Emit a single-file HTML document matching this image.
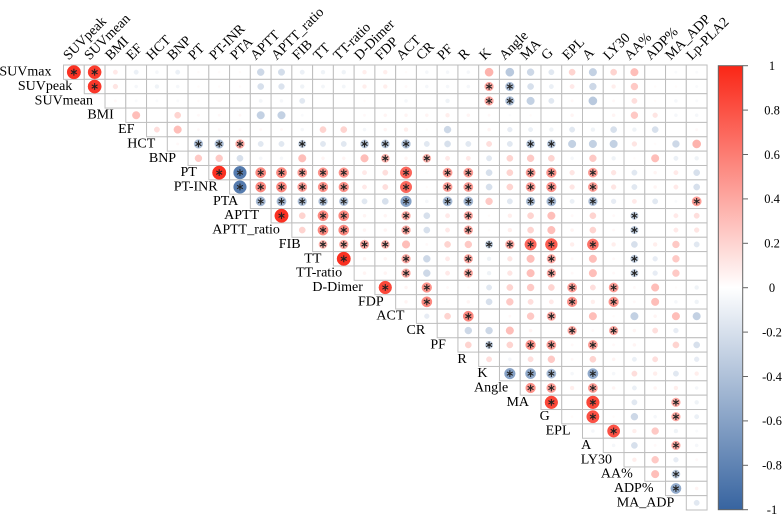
<!DOCTYPE html>
<html>
<head>
<meta charset="utf-8">
<style>
  html,body{margin:0;padding:0;background:#fff;}
  body{width:783px;height:514px;overflow:hidden;position:relative;}
  svg{display:block;position:absolute;left:0;top:0;}
  text{font-family:"Liberation Serif","Times New Roman",serif;fill:#000;}
  .rl{font-size:14px;text-anchor:end;}
  .bl{font-size:12.5px;text-anchor:middle;}
  .c{position:absolute;width:0;height:0;transform-origin:0 0;transform:rotate(-45deg);}
  .c span{position:absolute;left:0;bottom:-2.3px;font-family:"Liberation Serif","Times New Roman",serif;font-size:14px;line-height:1;white-space:nowrap;color:#000;}
</style>
</head>
<body>
<svg id="s" width="783" height="514" viewBox="0 0 783 514" xmlns="http://www.w3.org/2000/svg">
  <defs>
    <linearGradient id="cb" x1="0" y1="0" x2="0" y2="1">
      <stop offset="0" stop-color="rgb(250,38,22)"/>
      <stop offset="0.5" stop-color="#ffffff"/>
      <stop offset="1" stop-color="rgb(55,100,160)"/>
    </linearGradient>
  </defs>
  <g id="grid" fill="#fff" stroke="#bebebe" stroke-width="1"></g>
  <g id="circ"></g>
  <g id="star" stroke="#222" stroke-width="1.1" fill="none"></g>

  <!-- row labels -->
  <g class="rl">
    <text x="51.5" y="75.7">SUVmax</text>
    <text x="72.3" y="90.0">SUVpeak</text>
    <text x="93.0" y="104.4">SUVmean</text>
    <text x="113.8" y="118.7">BMI</text>
    <text x="134.5" y="133.1">EF</text>
    <text x="155.3" y="147.5">HCT</text>
    <text x="176.1" y="161.8">BNP</text>
    <text x="196.8" y="176.2">PT</text>
    <text x="217.6" y="190.5">PT-INR</text>
    <text x="238.3" y="204.9">PTA</text>
    <text x="259.1" y="219.2">APTT</text>
    <text x="279.9" y="233.6">APTT_ratio</text>
    <text x="300.6" y="247.9">FIB</text>
    <text x="321.4" y="262.3">TT</text>
    <text x="342.1" y="276.7">TT-ratio</text>
    <text x="362.9" y="291.0">D-Dimer</text>
    <text x="383.7" y="305.4">FDP</text>
    <text x="404.4" y="319.7">ACT</text>
    <text x="425.2" y="334.1">CR</text>
    <text x="445.9" y="348.4">PF</text>
    <text x="466.7" y="362.8">R</text>
    <text x="487.5" y="377.1">K</text>
    <text x="508.2" y="391.5">Angle</text>
    <text x="529.0" y="405.9">MA</text>
    <text x="549.7" y="420.2">G</text>
    <text x="570.5" y="434.6">EPL</text>
    <text x="591.3" y="448.9">A</text>
    <text x="612.0" y="463.3">LY30</text>
    <text x="632.8" y="477.6">AA%</text>
    <text x="653.5" y="492.0">ADP%</text>
    <text x="674.3" y="506.3">MA_ADP</text>
  </g>

  <!-- colour bar -->
  <rect x="718.3" y="65.7" width="24.4" height="444" fill="url(#cb)" stroke="#666" stroke-width="1"/>
  <g stroke="#666" stroke-width="1">
    <line x1="742.7" y1="65.7" x2="748" y2="65.7"/>
    <line x1="742.7" y1="110.1" x2="748" y2="110.1"/>
    <line x1="742.7" y1="154.5" x2="748" y2="154.5"/>
    <line x1="742.7" y1="198.9" x2="748" y2="198.9"/>
    <line x1="742.7" y1="243.3" x2="748" y2="243.3"/>
    <line x1="742.7" y1="287.7" x2="748" y2="287.7"/>
    <line x1="742.7" y1="332.1" x2="748" y2="332.1"/>
    <line x1="742.7" y1="376.5" x2="748" y2="376.5"/>
    <line x1="742.7" y1="420.9" x2="748" y2="420.9"/>
    <line x1="742.7" y1="465.3" x2="748" y2="465.3"/>
    <line x1="742.7" y1="509.7" x2="748" y2="509.7"/>
  </g>
  <g class="bl">
    <text x="772" y="70.0">1</text>
    <text x="772" y="114.4">0.8</text>
    <text x="772" y="158.8">0.6</text>
    <text x="772" y="203.2">0.4</text>
    <text x="772" y="247.6">0.2</text>
    <text x="772" y="292.0">0</text>
    <text x="772" y="336.4">-0.2</text>
    <text x="772" y="380.8">-0.4</text>
    <text x="772" y="425.2">-0.6</text>
    <text x="772" y="469.6">-0.8</text>
    <text x="772" y="514.0">-1</text>
  </g>
</svg>

<!-- column labels (HTML, rotated -45deg about baseline start) -->
<div class="c" style="left:70.4px;top:61.5px"><span>SUVpeak</span></div>
<div class="c" style="left:91.1px;top:61.5px"><span>SUVmean</span></div>
<div class="c" style="left:111.9px;top:61.5px"><span>BMI</span></div>
<div class="c" style="left:132.7px;top:61.5px"><span>EF</span></div>
<div class="c" style="left:153.4px;top:61.5px"><span>HCT</span></div>
<div class="c" style="left:174.2px;top:61.5px"><span>BNP</span></div>
<div class="c" style="left:194.9px;top:61.5px"><span>PT</span></div>
<div class="c" style="left:215.7px;top:61.5px"><span>PT-INR</span></div>
<div class="c" style="left:236.5px;top:61.5px"><span>PTA</span></div>
<div class="c" style="left:257.2px;top:61.5px"><span>APTT</span></div>
<div class="c" style="left:278.0px;top:61.5px"><span>APTT_ratio</span></div>
<div class="c" style="left:298.7px;top:61.5px"><span>FIB</span></div>
<div class="c" style="left:319.5px;top:61.5px"><span>TT</span></div>
<div class="c" style="left:340.3px;top:61.5px"><span>TT-ratio</span></div>
<div class="c" style="left:361.0px;top:61.5px"><span>D-Dimer</span></div>
<div class="c" style="left:381.8px;top:61.5px"><span>FDP</span></div>
<div class="c" style="left:402.5px;top:61.5px"><span>ACT</span></div>
<div class="c" style="left:423.3px;top:61.5px"><span>CR</span></div>
<div class="c" style="left:444.1px;top:61.5px"><span>PF</span></div>
<div class="c" style="left:464.8px;top:61.5px"><span>R</span></div>
<div class="c" style="left:485.6px;top:61.5px"><span>K</span></div>
<div class="c" style="left:506.3px;top:61.5px"><span>Angle</span></div>
<div class="c" style="left:527.1px;top:61.5px"><span>MA</span></div>
<div class="c" style="left:547.9px;top:61.5px"><span>G</span></div>
<div class="c" style="left:568.6px;top:61.5px"><span>EPL</span></div>
<div class="c" style="left:589.4px;top:61.5px"><span>A</span></div>
<div class="c" style="left:610.1px;top:61.5px"><span>LY30</span></div>
<div class="c" style="left:630.9px;top:61.5px"><span>AA%</span></div>
<div class="c" style="left:651.7px;top:61.5px"><span>ADP%</span></div>
<div class="c" style="left:672.4px;top:61.5px"><span>MA_ADP</span></div>
<div class="c" style="left:693.2px;top:61.5px"><span>Lp-PLA2</span></div>

<script>
(function(){
  var D=[
"95*,90*,10,-10,-5,-10,2,2,2,-25,-22,-10,-8,-8,8,8,2,-5,-5,-5,35,-35,-25,-15,20,-30,20,30,0,-3,-3",
"92*,12,-5,-8,-5,2,2,2,-20,-18,-8,-6,-6,8,8,3,-5,-5,-5,40*,-40*,-20,-10,10,-25,8,25,2,2,-3",
"3,-3,-3,-3,2,2,2,-6,-5,-15,0,0,2,0,-5,0,-8,0,40*,-40*,-30,-15,3,-35,3,15,2,-5,-3",
"30,0,20,3,3,3,-30,-30,-3,0,0,3,5,5,5,8,5,3,-2,2,0,5,0,5,25,12,-5,-5",
"15,30,3,3,3,3,3,-5,20,20,-5,5,8,2,-25,0,5,-12,-10,-8,-15,-8,-20,-8,-20,0,3",
"3,-40*,-40*,40*,-15,-15,-30*,-15,-15,-35*,-35*,-40*,-15,-20,-15,15,-15,-35*,-35*,-30,-30,-30,12,2,-25,35",
"25,25,-20,-5,-5,30,5,5,30,35*,5,35*,10,10,-15,20,25,20,-5,25,-8,2,30,-10,-8",
"95*,-85*,55*,55*,45*,50*,50*,10,15,70*,2,45*,45*,-20,20,45*,50*,12,45*,12,-15,5,10,-20",
"-85*,55*,55*,45*,50*,50*,10,15,70*,2,45*,45*,-20,20,45*,50*,12,45*,12,-15,5,10,-20",
"-45*,-45*,-40*,-40*,-40*,-15,-20,-60*,-5,-45*,-45*,25,-15,-40*,-45*,-10,-40*,-12,10,-15,-3,45*",
"95*,20,55*,55*,5,5,40*,-20,10,40*,2,8,20,30,3,20,3,-30*,0,10,15",
"20,55*,55*,5,5,40*,-20,10,40*,2,8,20,30,5,20,3,-30*,0,10,12",
"35*,40*,40*,35*,30,3,20,25,-30*,40*,70*,75*,8,65*,8,-20,8,25,-15",
"95*,5,5,40*,-25,10,40*,-8,12,30,40*,3,30,3,-30*,-12,25,0",
"5,5,40*,-25,10,40*,-8,12,30,40*,3,30,3,-30*,-12,25,0",
"85*,5,50*,3,2,-15,20,25,20,45*,15,45*,3,30,2,-8",
"5,55*,2,5,-20,25,15,10,50*,8,50*,3,30,-5,-8",
"-12,20,55*,0,3,25,40*,0,30,2,-30,5,30,-30",
"0,-25,-25,30,5,0,40*,3,40*,5,15,-12,0",
"20,-30*,20,50*,45*,3,45*,3,5,0,20,-20",
"15,-5,15,25,3,20,5,-10,15,0,-12",
"-60*,-55*,-45*,-5,-55*,-5,15,8,-15,8",
"50*,45*,8,45*,5,-10,5,8,-5",
"85*,0,85*,0,-15,0,40*,-8",
"2,80*,2,-25,-5,40*,-10",
"-5,80*,8,25,-8,-3",
"-5,-20,3,40*,-5",
"8,25,-12,3",
"30,-35*,0",
"-55*,5",
"-15"
  ];
  var gx=63.5, gy=65, cw=20.76, ch=14.355;
  function col(v){
    var r,g,b,a;
    if(v>=0){a=v;r=255+(250-255)*a;g=255+(38-255)*a;b=255+(22-255)*a;}
    else{a=-v;r=255+(55-255)*a;g=255+(100-255)*a;b=255+(160-255)*a;}
    return 'rgb('+Math.round(r)+','+Math.round(g)+','+Math.round(b)+')';
  }
  var G='',C='',S='';
  for(var r=0;r<D.length;r++){
    var parts=D[r].split(',');
    for(var i=0;i<parts.length;i++){
      var c=r+i, t=parts[i];
      var x=gx+c*cw, y=gy+r*ch;
      G+='<rect x="'+x.toFixed(2)+'" y="'+y.toFixed(2)+'" width="'+cw+'" height="'+ch+'"/>';
      var sig=t.indexOf('*')>=0;
      var v=parseFloat(t)/100;
      var cx=x+cw/2, cy=y+ch/2;
      if(v!==0){
        var rad=6.9*Math.sqrt(Math.abs(v));
        var cl=col(v);
        C+='<circle cx="'+cx.toFixed(2)+'" cy="'+cy.toFixed(2)+'" r="'+rad.toFixed(2)+'" fill="'+cl+'" stroke="'+cl+'" stroke-width="0.5"/>';
      }
      if(sig){
        var L=3.4, dx=L*0.866, dy=L*0.5;
        S+='<path d="M'+cx.toFixed(2)+','+(cy-L).toFixed(2)+'L'+cx.toFixed(2)+','+(cy+L).toFixed(2)+
           'M'+(cx-dx).toFixed(2)+','+(cy-dy).toFixed(2)+'L'+(cx+dx).toFixed(2)+','+(cy+dy).toFixed(2)+
           'M'+(cx-dx).toFixed(2)+','+(cy+dy).toFixed(2)+'L'+(cx+dx).toFixed(2)+','+(cy-dy).toFixed(2)+'"/>';
      }
    }
  }
  document.getElementById('grid').innerHTML=G;
  document.getElementById('circ').innerHTML=C;
  document.getElementById('star').innerHTML=S;
})();
</script>
</body>
</html>
